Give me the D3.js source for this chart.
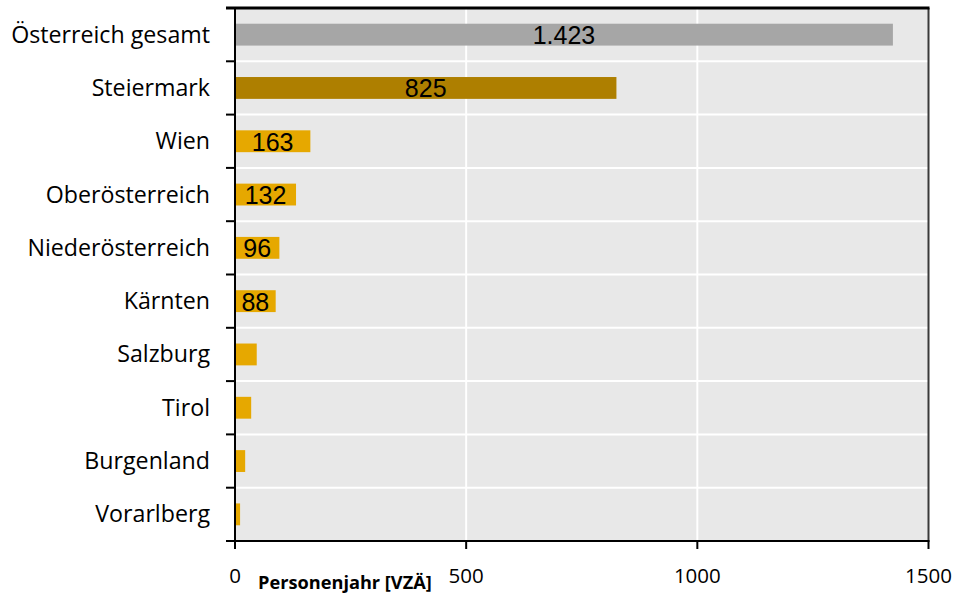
<!DOCTYPE html>
<html>
<head>
<meta charset="utf-8">
<script src="https://cdn.jsdelivr.net/npm/d3@7"></script>
<style>
  html, body { margin: 0; padding: 0; background: #ffffff; }
  svg { display: block; }
</style>
</head>
<body>
<svg id="chart" width="957" height="593"></svg>
<script>
// Regions and their values (Personenjahre, VZÄ)
const regions = ["Österreich gesamt", "Steiermark", "Wien", "Oberösterreich", "Niederösterreich",
                 "Kärnten", "Salzburg", "Tirol", "Burgenland", "Vorarlberg"];
const values = [1423, 825, 163, 132, 96, 88, 47, 35, 22, 11];
// Printed value labels (empty where no label is shown)
const valueLabels = ["1.423", "825", "163", "132", "96", "88", "", "", "", ""];
const xTicks = [0, 500, 1000, 1500];
const axisTitle = "Personenjahr [VZÄ]";

const barColor = (i) => i === 0 ? "#a6a6a6" : (i === 1 ? "#ae7f00" : "#e6a800");

const svg = d3.select("#chart");
const plot = { left: 235, top: 8, right: 928.5, bottom: 541 };

const x = d3.scaleLinear().domain([0, 1500]).range([plot.left, plot.right]);
const y = d3.scaleBand().domain(regions).range([plot.top, plot.bottom]).padding(0);

// Plot background
svg.append("rect")
  .attr("x", plot.left).attr("y", plot.top)
  .attr("width", plot.right - plot.left).attr("height", plot.bottom - plot.top)
  .attr("fill", "#e8e8e8");

// Vertical gridlines
svg.append("g").selectAll("line")
  .data(xTicks.filter(t => t > 0 && t < 1500))
  .join("line")
  .attr("x1", d => x(d)).attr("x2", d => x(d))
  .attr("y1", plot.top).attr("y2", plot.bottom)
  .attr("stroke", "#ffffff").attr("stroke-width", 2);

// Horizontal gridlines between rows
svg.append("g").selectAll("line")
  .data(regions.slice(1))
  .join("line")
  .attr("x1", plot.left).attr("x2", plot.right)
  .attr("y1", d => y(d)).attr("y2", d => y(d))
  .attr("stroke", "#ffffff").attr("stroke-width", 2);

// Bars
const barH = y.bandwidth() * 0.41;
svg.append("g").selectAll("rect")
  .data(values)
  .join("rect")
  .attr("x", x(0))
  .attr("y", (d, i) => y(regions[i]) + (y.bandwidth() - barH) / 2)
  .attr("width", d => x(d) - x(0))
  .attr("height", barH)
  .attr("fill", (d, i) => barColor(i));

// Value labels centred on bars
svg.append("g").selectAll("text")
  .data(values)
  .join("text")
  .attr("x", d => (x(0) + x(d)) / 2)
  .attr("y", (d, i) => y(regions[i]) + y.bandwidth() / 2 + 9.5)
  .attr("text-anchor", "middle")
  .attr("font-family", "'Liberation Sans', Arial, sans-serif")
  .attr("font-size", 25)
  .attr("fill", "#000000")
  .text((d, i) => valueLabels[i]);

// Right border
svg.append("line")
  .attr("x1", plot.right).attr("x2", plot.right)
  .attr("y1", plot.top).attr("y2", plot.bottom)
  .attr("stroke", "#3a3a3a").attr("stroke-width", 2);

// Top border
svg.append("line")
  .attr("x1", plot.left - 9).attr("x2", plot.right + 1)
  .attr("y1", plot.top).attr("y2", plot.top)
  .attr("stroke", "#000000").attr("stroke-width", 3);

// Left axis with category ticks at row boundaries
const leftAxis = svg.append("g");
leftAxis.append("line")
  .attr("x1", plot.left).attr("x2", plot.left)
  .attr("y1", plot.top).attr("y2", plot.bottom)
  .attr("stroke", "#000000").attr("stroke-width", 2);
leftAxis.selectAll("line.tick")
  .data(regions.slice(1))
  .join("line")
  .attr("class", "tick")
  .attr("x1", plot.left - 9).attr("x2", plot.left)
  .attr("y1", d => y(d)).attr("y2", d => y(d))
  .attr("stroke", "#000000").attr("stroke-width", 2);
leftAxis.selectAll("text")
  .data(regions)
  .join("text")
  .attr("x", 210)
  .attr("y", d => y(d) + y.bandwidth() / 2 + 8)
  .attr("text-anchor", "end")
  .attr("font-family", "'Open Sans', sans-serif")
  .attr("font-size", 23.2)
  .attr("fill", "#000000")
  .text(d => d);

// Bottom axis
const bottomAxis = svg.append("g");
bottomAxis.append("line")
  .attr("x1", plot.left - 9).attr("x2", plot.right + 1)
  .attr("y1", plot.bottom).attr("y2", plot.bottom)
  .attr("stroke", "#000000").attr("stroke-width", 2);
bottomAxis.selectAll("line.tick")
  .data(xTicks)
  .join("line")
  .attr("class", "tick")
  .attr("x1", d => x(d)).attr("x2", d => x(d))
  .attr("y1", plot.bottom).attr("y2", plot.bottom + 8)
  .attr("stroke", "#000000").attr("stroke-width", 2);
bottomAxis.selectAll("text")
  .data(xTicks)
  .join("text")
  .attr("x", d => x(d))
  .attr("y", 583)
  .attr("text-anchor", "middle")
  .attr("font-family", "'Open Sans', sans-serif")
  .attr("font-size", 20.5)
  .attr("fill", "#000000")
  .text(d => d);

// Axis title
svg.append("text")
  .attr("x", 258)
  .attr("y", 589)
  .attr("font-family", "'Open Sans', sans-serif")
  .attr("font-weight", 700)
  .attr("font-size", 18.2)
  .attr("fill", "#000000")
  .text(axisTitle);
</script>
</body>
</html>
